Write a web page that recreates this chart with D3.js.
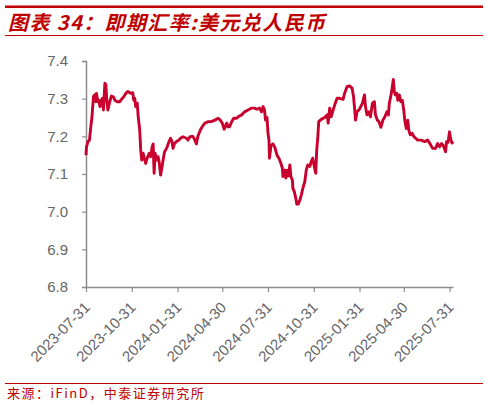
<!DOCTYPE html>
<html><head><meta charset="utf-8">
<script src="https://cdn.jsdelivr.net/npm/d3@7"></script>
<style>
html,body{margin:0;padding:0;background:#fff;}
svg{display:block;}
</style></head>
<body>
<script>
// ---- data ----
const dates = [
"2023-07-31","2023-08-01","2023-08-04","2023-08-07","2023-08-09","2023-08-12","2023-08-15","2023-08-17","2023-08-20","2023-08-21",
"2023-08-24","2023-08-26","2023-08-28","2023-08-31","2023-09-02","2023-09-04","2023-09-07","2023-09-09","2023-09-11","2023-09-13",
"2023-09-16","2023-09-20","2023-09-24","2023-09-27","2023-10-02","2023-10-07","2023-10-12","2023-10-15","2023-10-19","2023-10-23",
"2023-10-29","2023-11-02","2023-11-04","2023-11-06","2023-11-08","2023-11-11","2023-11-13","2023-11-16","2023-11-18","2023-11-20",
"2023-11-23","2023-11-26","2023-11-28","2023-12-01","2023-12-05","2023-12-08","2023-12-11","2023-12-13","2023-12-15","2023-12-17",
"2023-12-20","2023-12-23","2023-12-25","2023-12-28","2023-12-31","2024-01-02","2024-01-05","2024-01-09","2024-01-14","2024-01-17",
"2024-01-20","2024-01-22","2024-01-25","2024-01-29","2024-02-03","2024-02-06","2024-02-11","2024-02-18","2024-02-21","2024-02-25",
"2024-03-02","2024-03-06","2024-03-09","2024-03-12","2024-03-17","2024-03-21","2024-03-26","2024-04-02","2024-04-08","2024-04-15",
"2024-04-22","2024-04-26","2024-04-30","2024-05-04","2024-05-09","2024-05-12","2024-05-15","2024-05-19","2024-05-23","2024-05-29",
"2024-06-01","2024-06-08","2024-06-14","2024-06-21","2024-06-28","2024-07-04","2024-07-09","2024-07-14","2024-07-18","2024-07-21",
"2024-07-24","2024-07-26","2024-07-29","2024-07-31","2024-08-02","2024-08-03","2024-08-06","2024-08-10","2024-08-14","2024-08-18",
"2024-08-22","2024-08-26","2024-08-29","2024-08-30","2024-09-03","2024-09-05","2024-09-07","2024-09-10","2024-09-13","2024-09-15",
"2024-09-18","2024-09-19","2024-09-22","2024-09-25","2024-09-27","2024-09-30","2024-10-03","2024-10-06","2024-10-09","2024-10-13",
"2024-10-16","2024-10-19","2024-10-23","2024-10-26","2024-10-29","2024-11-01","2024-11-04","2024-11-06","2024-11-08","2024-11-10",
"2024-11-15","2024-11-22","2024-11-27","2024-11-29","2024-12-02","2024-12-05","2024-12-09","2024-12-12","2024-12-17","2024-12-22",
"2024-12-29","2025-01-01","2025-01-06","2025-01-11","2025-01-16","2025-01-19","2025-01-22","2025-01-23","2025-01-26","2025-01-31",
"2025-02-06","2025-02-10","2025-02-12","2025-02-15","2025-02-19","2025-02-22","2025-02-26","2025-03-02","2025-03-04","2025-03-08",
"2025-03-11","2025-03-15","2025-03-19","2025-03-23","2025-03-27","2025-03-30","2025-04-01","2025-04-05","2025-04-07","2025-04-09",
"2025-04-11","2025-04-13","2025-04-16","2025-04-18","2025-04-21","2025-04-24","2025-04-27","2025-04-30","2025-05-02","2025-05-05",
"2025-05-08","2025-05-10","2025-05-13","2025-05-17","2025-05-20","2025-05-24","2025-05-28","2025-06-04","2025-06-11","2025-06-17",
"2025-06-22","2025-06-27","2025-07-03","2025-07-07","2025-07-11","2025-07-15","2025-07-19","2025-07-23","2025-07-25","2025-07-28",
"2025-07-31","2025-08-02","2025-08-05","2025-08-07"
];
const rates = [
7.150,7.172,7.186,7.190,7.217,7.252,7.305,7.310,7.292,7.314,
7.292,7.296,7.279,7.296,7.301,7.270,7.341,7.337,7.292,7.270,
7.288,7.307,7.305,7.296,7.292,7.292,7.301,7.305,7.314,7.319,
7.314,7.316,7.296,7.301,7.279,7.288,7.252,7.217,7.164,7.137,
7.155,7.137,7.128,7.142,7.155,7.146,7.172,7.180,7.102,7.155,
7.137,7.146,7.133,7.097,7.120,7.137,7.159,7.168,7.186,7.195,
7.186,7.168,7.181,7.186,7.190,7.195,7.199,7.195,7.190,7.199,
7.200,7.190,7.180,7.200,7.217,7.226,7.235,7.239,7.239,7.243,
7.248,7.243,7.235,7.219,7.235,7.225,7.226,7.239,7.248,7.248,
7.252,7.257,7.265,7.270,7.275,7.275,7.272,7.275,7.265,7.279,
7.270,7.243,7.250,7.208,7.190,7.142,7.175,7.180,7.170,7.150,
7.142,7.128,7.115,7.093,7.110,7.089,7.110,7.095,7.124,7.093,
7.084,7.062,7.053,7.035,7.020,7.020,7.031,7.044,7.062,7.080,
7.111,7.124,7.120,7.133,7.142,7.120,7.102,7.164,7.195,7.239,
7.245,7.250,7.257,7.235,7.275,7.252,7.270,7.283,7.301,7.301,
7.298,7.314,7.332,7.334,7.328,7.305,7.261,7.243,7.265,7.272,
7.288,7.310,7.279,7.257,7.265,7.252,7.288,7.292,7.257,7.243,
7.239,7.224,7.243,7.252,7.265,7.257,7.288,7.314,7.332,7.351,
7.319,7.310,7.314,7.296,7.310,7.292,7.296,7.270,7.243,7.221,
7.243,7.217,7.204,7.208,7.200,7.195,7.190,7.190,7.186,7.190,
7.180,7.168,7.168,7.181,7.172,7.181,7.174,7.159,7.186,7.184,
7.212,7.195,7.182,7.186
];
const xTickLabels = ["2023-07-31","2023-10-31","2024-01-31","2024-04-30","2024-07-31","2024-10-31","2025-01-31","2025-04-30","2025-07-31"];
const yTicks = [6.8,6.9,7.0,7.1,7.2,7.3,7.4];
const titleText = "图表 34：即期汇率:美元兑人民币";
const sourceText = "来源：iFinD，中泰证券研究所";

// ---- chart ----
const W = 488, H = 406;
const parse = d3.timeParse("%Y-%m-%d");
const data = dates.map((d,i)=>({date:parse(d), v:rates[i]}));

const svg = d3.select("body").append("svg").attr("width",W).attr("height",H);

const red = "#c00000";
svg.append("rect").attr("x",5).attr("y",5.5).attr("width",478).attr("height",2.5).attr("fill",red);
svg.append("line").attr("x1",5).attr("x2",483).attr("y1",35.5).attr("y2",35.5).attr("stroke",red).attr("stroke-width",1);
svg.append("text").attr("x",8).attr("y",30)
  .attr("fill",red).attr("font-size",20).attr("font-style","italic").attr("font-weight","bold")
  .attr("letter-spacing",1.4)
  .attr("font-family","'Noto Sans CJK SC', 'Liberation Sans', sans-serif")
  .text(titleText);

const x = d3.scaleTime().domain([parse("2023-07-31"), parse("2025-08-07")]).range([86, 453]);
const y = d3.scaleLinear().domain([6.8, 7.4]).range([287, 61]);

const axisColor = "#8c8c8c";
const textColor = "#666666";

// y axis
const yAxis = svg.append("g").attr("transform","translate(86,0)")
  .call(d3.axisLeft(y).tickValues(yTicks).tickFormat(d3.format(".1f")).tickSize(4).tickPadding(14));
yAxis.select(".domain").attr("stroke",axisColor).attr("stroke-width",1.5);
yAxis.selectAll(".tick line").attr("stroke",axisColor).attr("stroke-width",1.2);
yAxis.selectAll(".tick text").attr("fill",textColor).attr("font-size",15)
  .attr("font-family","'Liberation Sans', Arial, sans-serif");

// x axis
const xTicks = xTickLabels.map(parse);
const xAxis = svg.append("g").attr("transform","translate(0,287)")
  .call(d3.axisBottom(x).tickValues(xTicks).tickFormat(d3.timeFormat("%Y-%m-%d")).tickSize(5).tickSizeOuter(0));
xAxis.select(".domain").attr("stroke",axisColor).attr("stroke-width",1.5);
xAxis.selectAll(".tick line").attr("stroke",axisColor).attr("stroke-width",1.2);
xAxis.selectAll(".tick text")
  .attr("fill",textColor).attr("font-size",15)
  .attr("font-family","'Liberation Sans', Arial, sans-serif")
  .attr("text-anchor","end")
  .attr("transform","translate(-3,14) rotate(-45)")
  .attr("x",0).attr("y",0).attr("dy","0.7em");

// line
const line = d3.line().x(d=>x(d.date)).y(d=>y(d.v)).curve(d3.curveLinear);
svg.append("path").datum(data).attr("d",line)
  .attr("fill","none").attr("stroke","#c8002d").attr("stroke-width",2.9)
  .attr("stroke-linejoin","round");

// source
svg.append("line").attr("x1",5).attr("x2",483).attr("y1",383.5).attr("y2",383.5).attr("stroke",red).attr("stroke-width",1);
svg.append("text").attr("x",7).attr("y",398)
  .attr("fill",red).attr("font-size",13).attr("letter-spacing",1.5)
  .attr("font-family","'Noto Sans CJK SC', sans-serif")
  .text(sourceText);
</script>
</body></html>
